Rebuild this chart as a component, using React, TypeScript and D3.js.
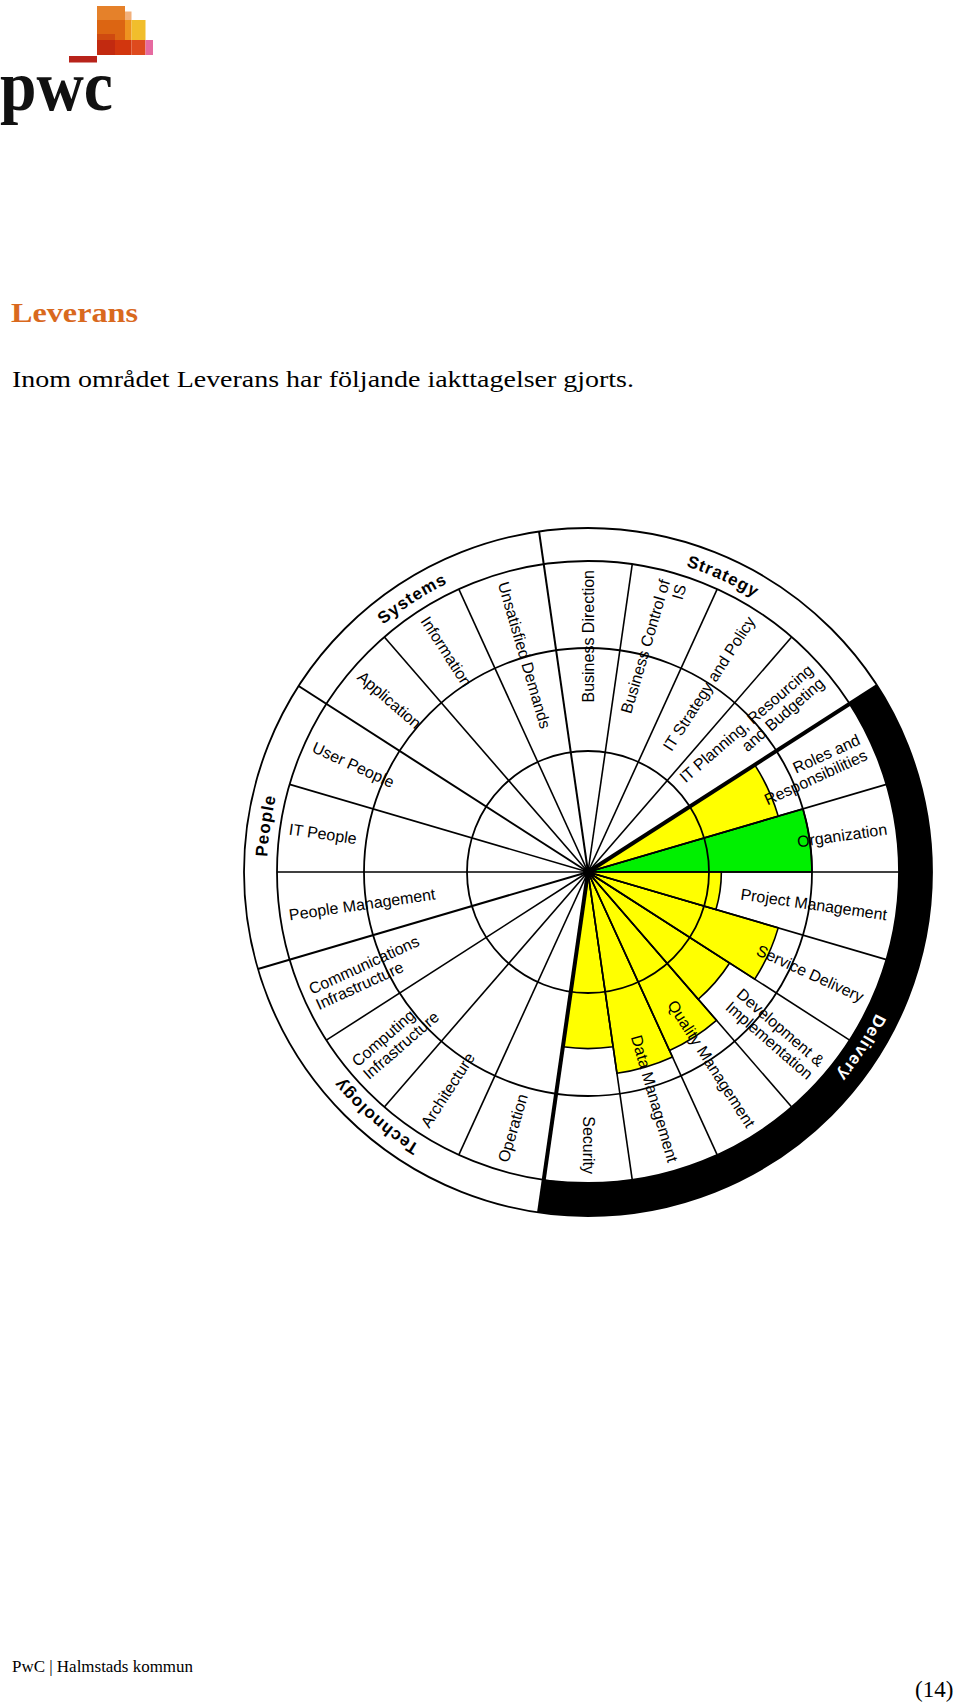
import React from 'react';
import * as d3 from 'd3';

// ---------- DATA ----------
// sectors listed counter-clockwise starting at 3 o'clock
const sectorLabels: string[][] = [
  ['Organization'],
  ['Roles and', 'Responsibilities'],
  ['IT Planning, Resourcing', 'and Budgeting'],
  ['IT Strategy and Policy'],
  ['Business Control of', 'IS'],
  ['Business Direction'],
  ['Unsatisfied Demands'],
  ['Information'],
  ['Application'],
  ['User People'],
  ['IT People'],
  ['People Management'],
  ['Communications', 'Infrastructure'],
  ['Computing', 'Infrastructure'],
  ['Architecture'],
  ['Operation'],
  ['Security'],
  ['Data Management'],
  ['Quality Management'],
  ['Development &', 'Implementation'],
  ['Service Delivery'],
  ['Project Management'],
];
const sectorCategory: string[] = [
  'Delivery', 'Delivery',
  'Strategy', 'Strategy', 'Strategy', 'Strategy',
  'Systems', 'Systems', 'Systems',
  'People', 'People', 'People',
  'Technology', 'Technology', 'Technology', 'Technology',
  'Delivery', 'Delivery', 'Delivery', 'Delivery', 'Delivery', 'Delivery',
];
const categories = ['Strategy', 'Systems', 'People', 'Technology', 'Delivery'];
const highlightedCategory = 'Delivery';
// assessed level per sector (0 = not assessed), on ring scale 0..3
const sectorLevel: number[] = [
  2.0, 1.75, 0, 0, 0, 0, 0, 0, 0, 0, 0, 0, 0, 0, 0, 0,
  1.54, 1.8, 1.73, 1.46, 1.75, 1.12,
];
const sectorFill: string[] = [
  'green', 'yellow', '', '', '', '', '', '', '', '', '', '', '', '', '', '',
  'yellow', 'yellow', 'yellow', 'yellow', 'yellow', 'yellow',
];
const ringLevels = [0, 1, 2, 3];

// ---------- LAYOUT ----------
const W = 960, H = 1705;
const cx = 588, cy = 872;
const ringRadii = [0, 121, 224, 311];
const outerR = 344;
const labelR = 302;
const N = sectorLabels.length;
const step = 360 / N;
const rScale = d3.scaleLinear().domain(ringLevels).range(ringRadii);
const colorMap: Record<string, string> = { yellow: '#FFFF00', green: '#00F000' };

const rad = (deg: number) => (deg * Math.PI) / 180;
const pt = (r: number, theta: number): [number, number] => [
  cx + r * Math.cos(rad(theta)),
  cy - r * Math.sin(rad(theta)),
];
// math angle (ccw from +x) -> d3 arc angle (cw from 12 o'clock)
const toD3 = (theta: number) => rad(90 - theta);

const arcGen = d3.arc<any>();

function categorySpan(cat: string) {
  const idx: number[] = [];
  for (let k = 0; k < N; k++) if (sectorCategory[k] === cat) idx.push(k);
  const start = idx.find((k) => sectorCategory[(k - 1 + N) % N] !== cat) ?? idx[0];
  const count = idx.length;
  return { start: start * step, end: (start + count) * step };
}

const font = '"Liberation Sans", Arial, sans-serif';
const serif = '"Liberation Serif", "Times New Roman", serif';

export default function App() {
  const fills = sectorLevel.map((lv, k) => {
    if (!lv) return null;
    const d = arcGen({
      innerRadius: 0,
      outerRadius: rScale(lv),
      startAngle: toD3((k + 1) * step),
      endAngle: toD3(k * step),
    });
    return (
      <path key={'f' + k} d={d || ''} transform={`translate(${cx},${cy})`}
        fill={colorMap[sectorFill[k]]} stroke="#000" strokeWidth={1.6} />
    );
  });

  const hl = categorySpan(highlightedCategory);
  const band = arcGen({
    innerRadius: ringRadii[3],
    outerRadius: outerR,
    startAngle: toD3(hl.end),
    endAngle: toD3(hl.start),
  });

  const catBoundaries = new Set<number>();
  categories.forEach((c) => {
    const s = categorySpan(c);
    catBoundaries.add(Math.round(s.start / step) % N);
  });
  const hlBoundaries = new Set<number>([
    Math.round(hl.start / step) % N,
    Math.round(hl.end / step) % N,
  ]);

  const radials = d3.range(N).map((k) => {
    const th = k * step;
    const isCat = catBoundaries.has(k);
    const thick = hlBoundaries.has(k);
    const [x2, y2] = pt(isCat ? outerR : ringRadii[3], th);
    return (
      <line key={'r' + k} x1={cx} y1={cy} x2={x2} y2={y2}
        stroke="#000" strokeWidth={thick ? 4 : isCat ? 2 : 1.6} />
    );
  });

  const labels = sectorLabels.map((lines, k) => {
    const mid = (k + 0.5) * step;
    const outward = Math.cos(rad(mid)) >= -0.01;
    const norm = mid > 180 ? mid - 360 : mid;
    const rot = outward ? -norm : 180 - mid;
    const [x, y] = pt(labelR, mid);
    const n = lines.length;
    return (
      <g key={'l' + k} transform={`translate(${x},${y}) rotate(${rot})`}>
        {lines.map((ln, i) => (
          <text key={i} x={0} y={(i - (n - 1) / 2) * 17}
            textAnchor={outward ? 'end' : 'start'} dominantBaseline="central"
            fontFamily={font} fontSize={16} fill="#000">{ln}</text>
        ))}
      </g>
    );
  });

  const catPaths = categories.map((c, i) => {
    const s = categorySpan(c);
    const mid = (s.start + s.end) / 2;
    const r = 321;
    const [x1, y1] = pt(r, mid + 45);
    const [x2, y2] = pt(r, mid - 45);
    return { id: 'catp' + i, d: `M${x1},${y1} A${r},${r} 0 0 1 ${x2},${y2}`, c };
  });

  return (
    <svg width={W} height={H} viewBox={`0 0 ${W} ${H}`}
      style={{ position: 'absolute', left: 0, top: 0, background: '#fff' }}>
      <rect x={0} y={0} width={W} height={H} fill="#fff" />
      {/* PwC logo */}
      <g>
        <rect x={69} y={56} width={28} height={6.5} fill="#B8231A" />
        <rect x={97} y={6} width={28} height={14} fill="#E5812A" />
        <rect x={125} y={11.5} width={6.5} height={9} fill="#F2B07A" />
        <rect x={97} y={20} width={28} height={20} fill="#DC6512" />
        <rect x={97} y={34} width={18} height={6} fill="#CF4A10" />
        <rect x={125} y={20} width={6.5} height={20} fill="#EE9320" />
        <rect x={131.5} y={20} width={14} height={20} fill="#F1BE2C" />
        <rect x={97} y={40} width={18} height={15} fill="#C22A10" />
        <rect x={115} y={40} width={16.5} height={15} fill="#D2360E" />
        <rect x={131.5} y={40} width={14} height={15} fill="#DE4A1E" />
        <rect x={145.5} y={40} width={7.5} height={15} fill="#E66AA0" />
        <text x={0} y={110} fontFamily={serif} fontWeight="bold" fontSize={72}
          textLength={113} lengthAdjust="spacingAndGlyphs" fill="#111">pwc</text>
      </g>
      <text x={11} y={322} fontFamily={serif} fontWeight="bold" fontSize={28}
        textLength={127} lengthAdjust="spacingAndGlyphs" fill="#D9691E">Leverans</text>
      <text x={12} y={387} fontFamily={serif} fontSize={24}
        textLength={622} lengthAdjust="spacingAndGlyphs" fill="#000">
        Inom området Leverans har följande iakttagelser gjorts.
      </text>

      {/* wheel */}
      <circle cx={cx} cy={cy} r={outerR} fill="#fff" stroke="none" />
      {fills}
      <path d={band || ''} transform={`translate(${cx},${cy})`} fill="#000" />
      {ringRadii.slice(1).map((r) => (
        <circle key={'c' + r} cx={cx} cy={cy} r={r} fill="none" stroke="#000" strokeWidth={1.8} />
      ))}
      <circle cx={cx} cy={cy} r={outerR} fill="none" stroke="#000" strokeWidth={1.8} />
      {radials}
      <circle cx={cx} cy={cy} r={5} fill="#000" />
      {labels}
      <defs>
        {catPaths.map((p) => <path key={p.id} id={p.id} d={p.d} />)}
      </defs>
      {catPaths.map((p) => (
        <text key={'t' + p.id} fontFamily={font} fontWeight="bold" fontSize={17}
          letterSpacing={1} fill={p.c === highlightedCategory ? '#fff' : '#000'}>
          <textPath href={'#' + p.id} startOffset="50%" textAnchor="middle">{p.c}</textPath>
        </text>
      ))}

      {/* footer */}
      <text x={12} y={1672} fontFamily={serif} fontSize={17}
        textLength={181} lengthAdjust="spacingAndGlyphs" fill="#000">PwC | Halmstads kommun</text>
      <text x={915} y={1697} fontFamily={serif} fontSize={23} fill="#000">(14)</text>
    </svg>
  );
}
